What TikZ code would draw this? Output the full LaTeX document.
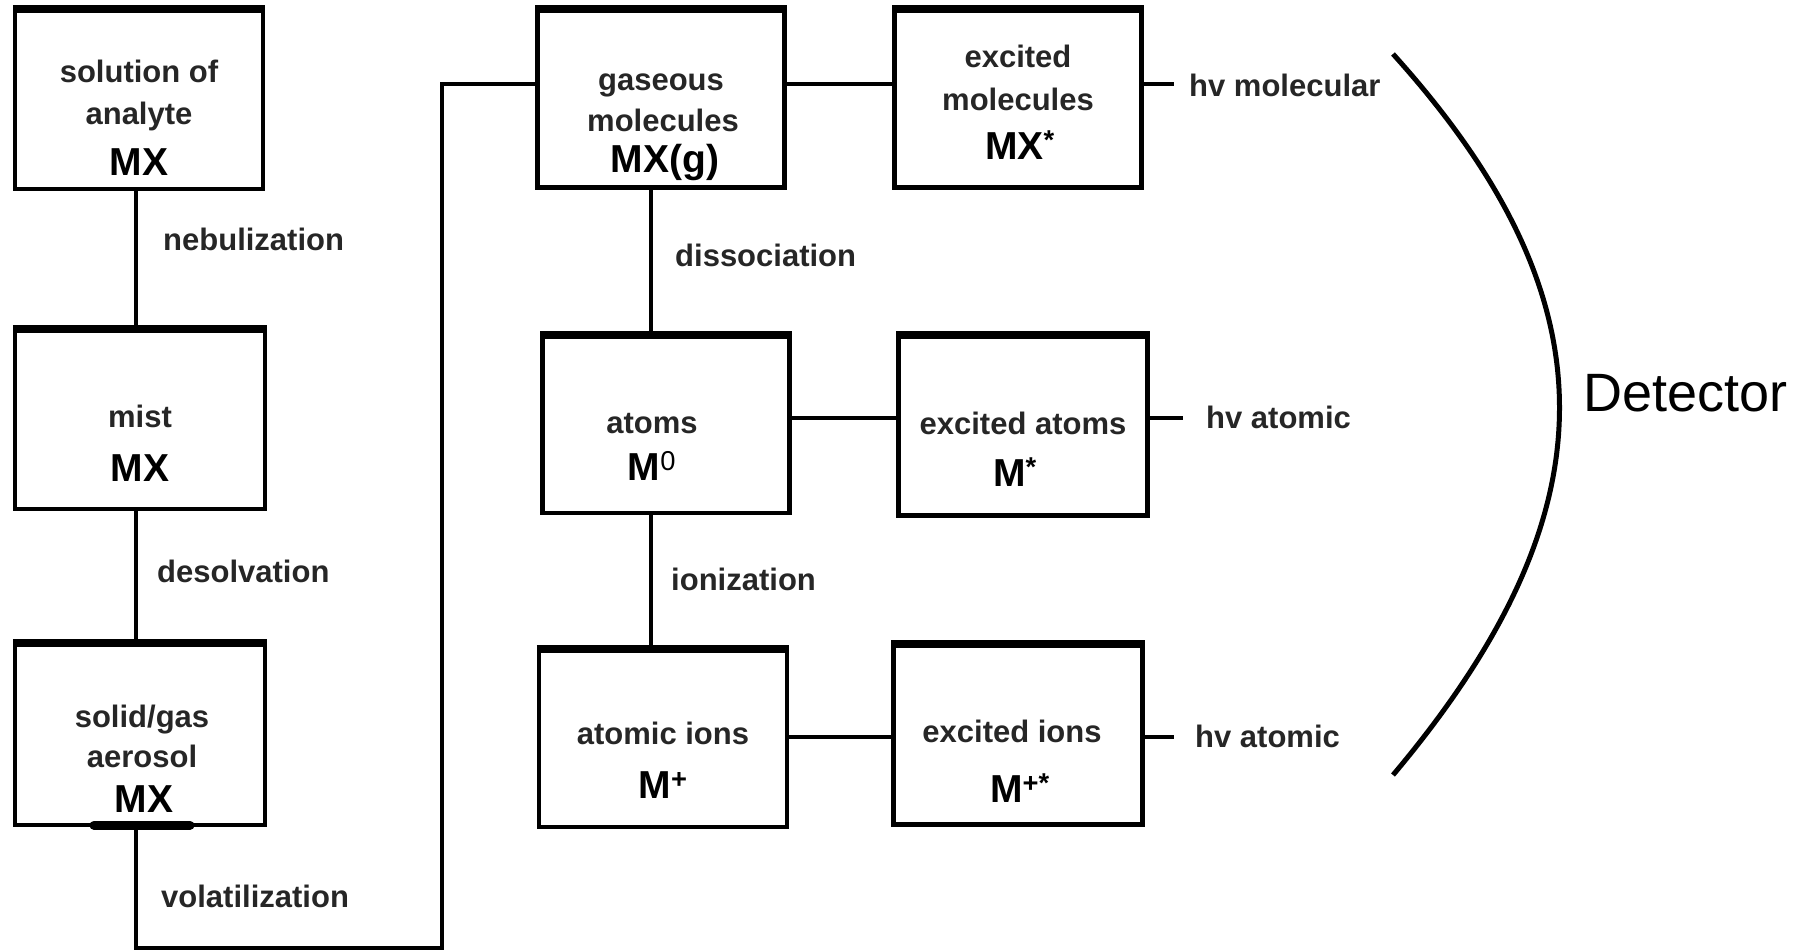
\documentclass[tikz,border=0pt]{standalone}
\usepackage{fontspec}
\setmainfont{Liberation Sans}
\begin{document}
\begin{tikzpicture}[x=1pt,y=-1pt,
  box/.style={draw, line width=4.5pt, inner sep=0pt, minimum width=248pt, minimum height=177pt},
  lbl/.style={font=\fontsize{31}{31}\selectfont\bfseries, text=black!85, inner sep=0pt},
  big/.style={font=\fontsize{39}{39}\selectfont\bfseries, text=black, inner sep=0pt},
  conn/.style={line width=4.5pt},
  topedge/.style={line width=7pt}]
\useasboundingbox (0,0) rectangle (1801,951);
% boxes
\node[box, minimum height=178pt] (b1) at (139,100) {};
\node[box, minimum width=250pt, minimum height=178pt] (b2) at (140,420) {};
\node[box, minimum width=250pt, minimum height=180pt] (b3) at (140,735) {};
\node[box, minimum width=247pt] (gas) at (661,99) {};
\node[box, minimum width=247pt] (exm) at (1018,99) {};
\node[box, minimum width=247pt, minimum height=176pt] (atm) at (666,425) {};
\node[box, minimum width=249pt, minimum height=179pt] (exa) at (1023,426) {};
\node[box, minimum height=176pt] (ion) at (663,739) {};
\node[box, minimum width=249pt, minimum height=179pt] (exi) at (1018,735) {};
\foreach \n in {b1,b2,b3,gas,exm,atm,exa,ion,exi}
  \draw[topedge] (\n.north west) -- (\n.north east);
% box texts
\node[lbl, anchor=base] (t1a) at (139,82) {solution of};
\node[lbl, anchor=base] (t1b) at (139,124) {analyte};
\node[big, anchor=base] (t1c) at (139,175) {MX};
\node[lbl, anchor=base] (t2a) at (140,427) {mist};
\node[big, anchor=base] (t2b) at (140,481) {MX};
\node[lbl, anchor=base] (t3a) at (142,727) {solid/gas};
\node[lbl, anchor=base] (t3b) at (142,767) {aerosol};
\node[big, anchor=base] (t3c) at (144,812) {MX};
\node[lbl, anchor=base] (tga) at (661,90) {gaseous};
\node[lbl, anchor=base] (tgb) at (663,131) {molecules};
\node[big, anchor=base] (tgc) at (665,172) {MX(g)};
\node[lbl, anchor=base] (tma) at (1018,67) {excited};
\node[lbl, anchor=base] (tmb) at (1018,110) {molecules};
\node[big, anchor=base] (tmc) at (1020,159) {MX\textsuperscript{*}};
\node[lbl, anchor=base] (taa) at (652,433) {atoms};
\node[big, anchor=base] (tab) at (652,480) {M\textsuperscript{\mdseries 0}};
\node[lbl, anchor=base] (tea) at (1023,434) {excited atoms};
\node[big, anchor=base] (teb) at (1015,486) {M\textsuperscript{*}};
\node[lbl, anchor=base] (tia) at (663,744) {atomic ions};
\node[big, anchor=base] (tib) at (663,798) {M\textsuperscript{+}};
\node[lbl, anchor=base] (txa) at (1012,742) {excited ions};
\node[big, anchor=base] (txb) at (1020,802) {M\textsuperscript{+*}};
% process labels
\node[lbl, anchor=base west] (nebu) at (163,250) {nebulization};
\node[lbl, anchor=base west] (deso) at (157,582) {desolvation};
\node[lbl, anchor=base west] (vola) at (161,907) {volatilization};
\node[lbl, anchor=base west] (diss) at (675,266) {dissociation};
\node[lbl, anchor=base west] (ioni) at (671,590) {ionization};
% emission labels
\node[lbl, anchor=base west] (hv1) at (1189,96) {hv molecular};
\node[lbl, anchor=base west] (hv2) at (1206,428) {hv atomic};
\node[lbl, anchor=base west] (hv3) at (1195,747) {hv atomic};
\node[font=\fontsize{54}{54}\selectfont, anchor=base west, inner sep=0pt] (det) at (1583,411) {Detector};
% coordinates
\coordinate (v2) at (442,948);
\coordinate (h1) at (1174,84);
\coordinate (h2) at (1183,418);
\coordinate (h3) at (1174,737);
% connectors
\draw[conn] ([xshift=-3pt]b1.south) -- ([xshift=-4pt]b2.north);
\draw[conn] ([xshift=-4pt]b2.south) -- ([xshift=-4pt]b3.north);
\draw[conn] ([xshift=-4pt]b3.south) |- (v2) |- ([yshift=15pt]gas.west);
\draw[conn] ([yshift=15pt]gas.east) -- ([yshift=15pt]exm.west);
\draw[conn] ([yshift=15pt]exm.east) -- (h1);
\draw[conn] ([xshift=-10pt]gas.south) -- ([xshift=-15pt]atm.north);
\draw[conn] ([yshift=7pt]atm.east) -- ([yshift=8pt]exa.west);
\draw[conn] ([yshift=8pt]exa.east) -- (h2);
\draw[conn] ([xshift=-15pt]atm.south) -- ([xshift=-12pt]ion.north);
\draw[conn] ([yshift=2pt]ion.east) -- ([yshift=-2pt]exi.west);
\draw[conn] ([yshift=-2pt]exi.east) -- (h3);
% underline
\draw[line width=9pt, line cap=round] ([xshift=-46pt,yshift=2pt]b3.south) -- ([xshift=50pt,yshift=2pt]b3.south);
% detector arc
\draw[line width=5pt] (1393,54) .. controls (1615,300) and (1615,511) .. (1393,775);
\end{tikzpicture}
\end{document}
